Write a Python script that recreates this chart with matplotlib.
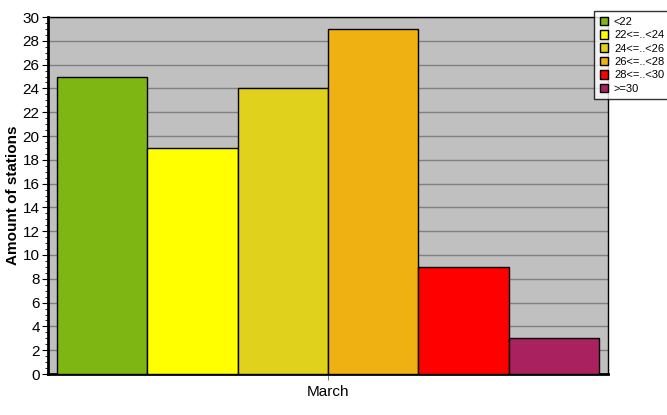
import matplotlib
matplotlib.use("Agg")
import matplotlib.pyplot as plt
from matplotlib.ticker import MultipleLocator

# data
categories = ["<22", "22<=..<24", "24<=..<26", "26<=..<28", "28<=..<30", ">=30"]
stations = [25, 19, 24, 29, 9, 3]
colors = ["#7EB613", "#FFFF00", "#E0D21C", "#EFB112", "#FF0000", "#AA2160"]
month = "March"

plt.rcParams["font.family"] = ["Liberation Sans", "DejaVu Sans"]

fig = plt.figure(figsize=(6.67, 4.15), dpi=100)
ax = fig.add_axes([48 / 667, 1 - 374 / 415, 560 / 667, 357 / 415])
ax.set_facecolor("#C0C0C0")

for i, (cat, val, col) in enumerate(zip(categories, stations, colors)):
    ax.bar(i, val, width=1.0, color=col, edgecolor="black", linewidth=1, label=cat, zorder=3)

ax.set_xlim(-0.6, len(categories) - 0.4)
ax.set_ylim(0, 30)
ax.yaxis.set_major_locator(MultipleLocator(2))
ax.yaxis.set_minor_locator(MultipleLocator(0.5))
ax.grid(axis="y", color="#808080", linewidth=1, zorder=0)
ax.set_axisbelow(True)

ax.set_xticks([(len(categories) - 1) / 2])
ax.set_xticklabels([month], fontsize=11)
ax.tick_params(axis="x", length=4, width=0.8, color="#808080", pad=4)
ax.tick_params(axis="y", which="major", length=4, labelsize=11, pad=2)
ax.tick_params(axis="y", which="minor", length=2)

ax.spines["left"].set_linewidth(2)
ax.spines["bottom"].set_linewidth(2)
ax.spines["top"].set_linewidth(1)
ax.spines["right"].set_linewidth(1)

ax.set_ylabel("Amount of stations", fontsize=11, fontweight="bold", labelpad=2)

leg = fig.legend(loc="upper left", bbox_to_anchor=(594 / 667, 1 - 11 / 415),
                 fontsize=8, frameon=True, fancybox=False, edgecolor="black",
                 handlelength=0.8, handleheight=0.8, handletextpad=0.5,
                 borderpad=0.5, labelspacing=0.3, borderaxespad=0)
leg.get_frame().set_linewidth(1)

fig.savefig("out.png", dpi=100)
